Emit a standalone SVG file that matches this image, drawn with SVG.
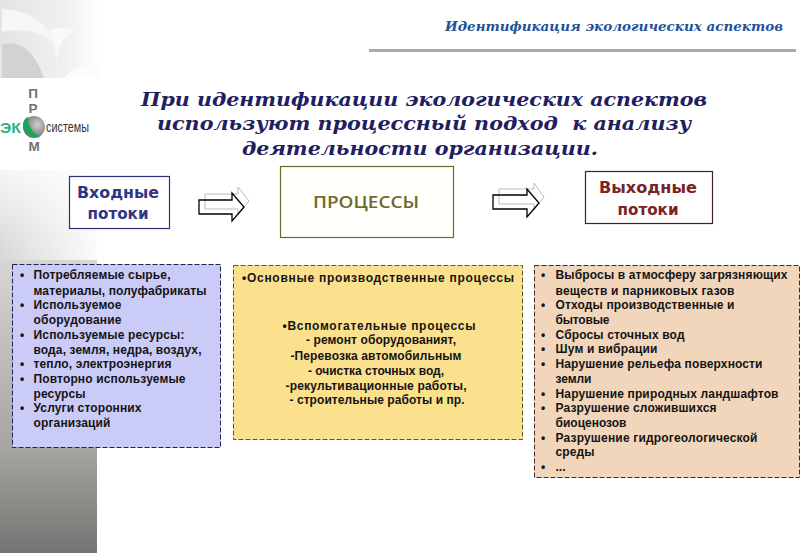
<svg xmlns="http://www.w3.org/2000/svg" width="800" height="553" viewBox="0 0 800 553">
<defs>
<linearGradient id="strip" x1="0" y1="0" x2="0" y2="1"><stop offset="0" stop-color="#f6f6f6"/><stop offset="0.235" stop-color="#d6d6d4"/><stop offset="0.73" stop-color="#a4a4a0"/><stop offset="1" stop-color="#747472"/></linearGradient>
<linearGradient id="fade" x1="0" y1="0" x2="1" y2="0"><stop offset="0" stop-color="#fff" stop-opacity="0"/><stop offset="1" stop-color="#fff" stop-opacity="0.9"/></linearGradient>
<linearGradient id="corner" x1="0" y1="0" x2="1" y2="0"><stop offset="0" stop-color="#e4e4e4"/><stop offset="0.65" stop-color="#f0f0f0"/><stop offset="1" stop-color="#ffffff"/></linearGradient>
<radialGradient id="ball" cx="0.65" cy="0.4" r="0.7"><stop offset="0" stop-color="#cfcfcf"/><stop offset="1" stop-color="#5c6a64"/></radialGradient>
</defs>
<style>
text{font-family:"Liberation Sans",Arial,sans-serif}
.t{font-family:"DejaVu Serif",serif;font-weight:700;font-style:italic}
.h{font-size:19px;fill:#1f2060;text-anchor:middle;white-space:pre}
.b{font-size:12px;font-weight:700;fill:#141414}
.m{text-anchor:middle}
.cap{font-family:"DejaVu Sans",sans-serif;font-size:15px;font-weight:700;text-anchor:middle}
.a1{fill:none;stroke:#000;stroke-width:1.300}
.a2{fill:none;stroke:#bbb;stroke-width:1}
.p{font-size:13.500px;font-weight:700;fill:#707070;text-anchor:middle}
</style>
<rect width="800" height="553" fill="#fff"/>
<rect x="0" y="170" width="97" height="383" fill="url(#strip)"/>
<rect x="0" y="170" width="97" height="90" fill="url(#fade)"/>
<g id="corner-art">
<rect x="0" y="0" width="100" height="78" fill="url(#corner)"/>
<path d="M2 9C26 10 46 20 54 42 38 30 20 28 2 32Z" fill="#f6f6f6"/>
<path d="M2 44C20 40 34 50 44 78H2Z" fill="#d2d2d2"/>
<path d="M50 30C58 26 68 27 76 31 64 34 58 44 57 62 55 50 54 40 50 30Z" fill="#f9f9f9"/>
<path d="M64 78C72 68 86 64 100 66V78Z" fill="#fcfcfc"/>
</g>
<g id="logo">
<text x="33" y="98" class="p">П</text>
<text x="33" y="113" class="p">Р</text>
<text x="34" y="151" class="p">М</text>
<circle cx="34" cy="127" r="11" fill="url(#ball)"/>
<path d="M28 117C27 125 33 133 40 137 32 139 23 132 23 125 23 121 25 118 28 117Z" fill="#13a85c"/>
<text x="0" y="133" font-size="15" font-weight="700" fill="#2fb37c" textLength="21" lengthAdjust="spacingAndGlyphs">ЭК</text>
<text x="46" y="132" font-size="14" fill="#333" textLength="43" lengthAdjust="spacingAndGlyphs">системы</text>
</g>
<g id="header">
<text class="t" x="445" y="31" font-size="13.500" fill="#1d5299" textLength="338" lengthAdjust="spacingAndGlyphs">Идентификация экологических аспектов</text>
<rect x="369" y="49" width="427" height="3" fill="#aaa"/>
</g>
<g id="title">
<text class="t h" x="424" y="106" textLength="566" lengthAdjust="spacingAndGlyphs">При идентификации экологических аспектов</text>
<text class="t h" x="424" y="130" textLength="534" lengthAdjust="spacingAndGlyphs">используют процессный подход  к анализу</text>
<text class="t h" x="420" y="155" textLength="356" lengthAdjust="spacingAndGlyphs">деятельности организации.</text>
</g>
<g id="connectors">
<path class="a2" d="M205 194H238V187L249 201 238 215V209H205Z"/>
<path class="a1" d="M199 200H232V193L244 207 232 221V214H199Z"/>
<path class="a2" d="M499 189H534V183L544 197 534 210V204H499Z"/>
<path class="a1" d="M493 195H527V189L539 203 527 217V209H493Z"/>
</g>
<g id="input-flows">
<rect x="69.500" y="176.500" width="100" height="52" fill="#fff" stroke="#2b3277" stroke-width="1.200"/>
<text class="cap" x="118" y="198" fill="#2f3585" textLength="82" lengthAdjust="spacingAndGlyphs">Входные</text>
<text class="cap" x="118" y="219" fill="#2f3585" textLength="61" lengthAdjust="spacingAndGlyphs">потоки</text>
</g>
<g id="processes">
<rect x="280.500" y="166.500" width="173" height="71" fill="#fffffb" stroke="#6b6a2e" stroke-width="1.200"/>
<text x="366" y="208" text-anchor="middle" style="font-family:'Open Sans',sans-serif;font-size:16px;font-weight:600" fill="#6f6a2c" textLength="106" lengthAdjust="spacingAndGlyphs">ПРОЦЕССЫ</text>
</g>
<g id="output-flows">
<rect x="585.500" y="171.500" width="127" height="52" fill="#fff" stroke="#4a2020" stroke-width="1.200"/>
<text class="cap" x="648" y="193" fill="#7a2226" textLength="98" lengthAdjust="spacingAndGlyphs">Выходные</text>
<text class="cap" x="648" y="215" fill="#7a2226" textLength="61" lengthAdjust="spacingAndGlyphs">потоки</text>
</g>
<g id="input-list">
<rect x="12.500" y="264.500" width="208" height="183" fill="#cbcbf8" stroke="#1e2358" stroke-dasharray="5 2"/>
<g class="b">
<text x="20" y="279">•</text><text x="33.500" y="279" textLength="137">Потребляемые сырье,</text>
<text x="33.500" y="295" textLength="173">материалы, полуфабрикаты</text>
<text x="20" y="309">•</text><text x="33.500" y="309" textLength="88">Используемое</text>
<text x="33.500" y="324" textLength="88">оборудование</text>
<text x="20" y="339">•</text><text x="33.500" y="339" textLength="151">Используемые ресурсы:</text>
<text x="33.500" y="354" textLength="168">вода, земля, недра, воздух,</text>
<text x="20" y="368">•</text><text x="33.500" y="368" textLength="138">тепло, электроэнергия</text>
<text x="20" y="383">•</text><text x="33.500" y="383" textLength="152">Повторно используемые</text>
<text x="33.500" y="398" textLength="52">ресурсы</text>
<text x="20" y="412">•</text><text x="33.500" y="412" textLength="108">Услуги сторонних</text>
<text x="33.500" y="427" textLength="77">организаций</text>
</g>
</g>
<g id="process-list">
<rect x="233.500" y="265.500" width="289" height="174" fill="#fbe08e" stroke="#5f5620" stroke-dasharray="5 2"/>
<g class="b">
<text x="242" y="282" textLength="272">•Основные производственные процессы</text>
<text x="379" y="330" class="m" textLength="193">•Вспомогательные процессы</text>
<text x="381" y="344" class="m" textLength="150">-  ремонт оборудованият,</text>
<text x="376" y="360" class="m" textLength="171">-Перевозка автомобильным</text>
<text x="376" y="375" class="m" textLength="136">- очистка сточных вод,</text>
<text x="376" y="390" class="m" textLength="181">-рекультивационные работы,</text>
<text x="377" y="404" class="m" textLength="175">- строительные работы и пр.</text>
</g>
</g>
<g id="output-list">
<rect x="534.500" y="265.500" width="265" height="212" fill="#f1d6bc" stroke="#4a2a20" stroke-dasharray="5 2"/>
<g class="b">
<text x="541" y="279">•</text><text x="555.500" y="279" textLength="232">Выбросы в атмосферу загрязняющих</text>
<text x="555.500" y="295" textLength="179">веществ и парниковых газов</text>
<text x="541" y="309">•</text><text x="555.500" y="309" textLength="179">Отходы производственные и</text>
<text x="555.500" y="324" textLength="54">бытовые</text>
<text x="541" y="339">•</text><text x="555.500" y="339" textLength="129">Сбросы сточных вод</text>
<text x="541" y="353">•</text><text x="555.500" y="353" textLength="102">Шум и вибрации</text>
<text x="541" y="368">•</text><text x="555.500" y="368" textLength="207">Нарушение рельефа поверхности</text>
<text x="555.500" y="383" textLength="36">земли</text>
<text x="541" y="398">•</text><text x="555.500" y="398" textLength="223">Нарушение природных ландшафтов</text>
<text x="541" y="412">•</text><text x="555.500" y="412" textLength="161">Разрушение сложившихся</text>
<text x="555.500" y="427" textLength="71">биоценозов</text>
<text x="541" y="442">•</text><text x="555.500" y="442" textLength="202">Разрушение гидрогеологической</text>
<text x="555.500" y="456" textLength="39">среды</text>
<text x="541" y="471">•</text><text x="555.500" y="471">...</text>
</g>
</g>
</svg>
